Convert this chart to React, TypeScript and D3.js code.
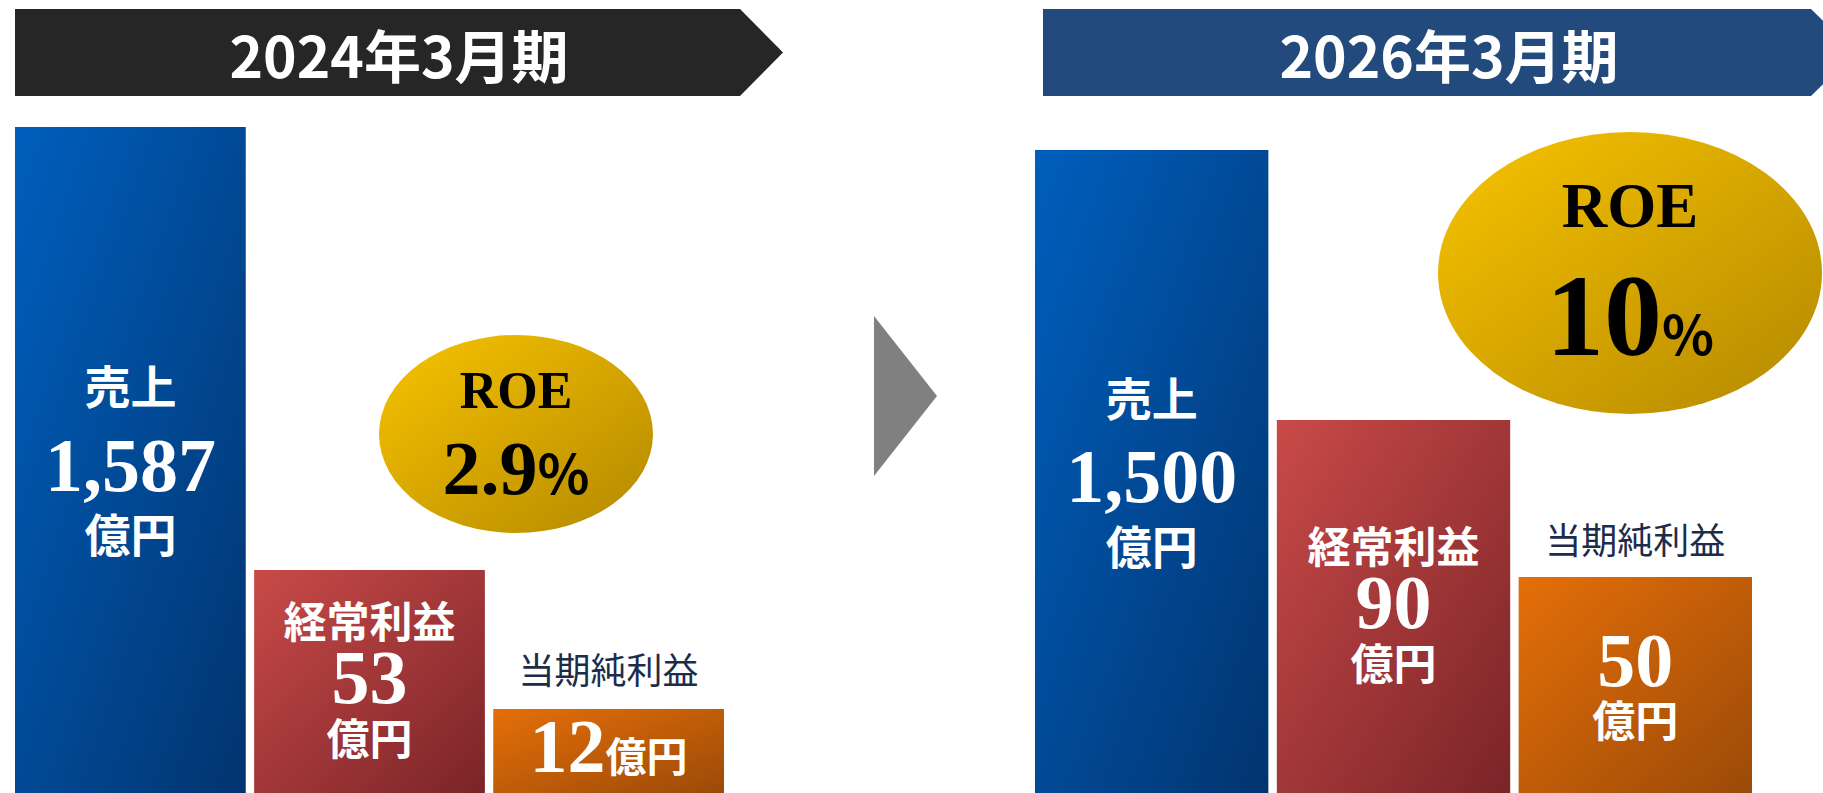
import React from 'react';
import * as d3 from 'd3';

// chart data
const periods = ['2024年3月期', '2026年3月期'];
const metrics = ['売上', '経常利益', '当期純利益'];
const values2024 = [1587, 53, 12];
const values2026 = [1500, 90, 50];
const roeValues = [2.9, 10];
const unitLabel = '億円';
const roeLabel = 'ROE';

const W = 1823;
const H = 793;
const JP = "'Noto Sans CJK JP', 'Noto Sans', sans-serif";
const SERIF = "'Liberation Serif', 'Times New Roman', serif";

const fmt = d3.format(',');

// per-panel layout (positions only, values come from the arrays above)
const layout = [
  {
    header: { x0: 15, x1: 740, tip: 783, y0: 9, y1: 96, fill: '#262626' },
    barRange: [15, 724],
    tops: [127, 570, 709],
    ellipse: { cx: 516, cy: 434, rx: 137, ry: 99 },
    roeY: 408, roeSize: 52, pctY: 494, pctNum: 76, pctSign: 54,
    sales: { name: 384, num: 491, unit: 532 },
    ord: { name: 619, num: 703, unit: 736 },
    net: { label: 668, inline: true, num: 772, unit: 772 },
  },
  {
    header: { x0: 1043, x1: 1811, tip: 1855, y0: 9, y1: 96, fill: '#224a7c' },
    barRange: [1035, 1752],
    tops: [150, 420, 577],
    ellipse: { cx: 1630, cy: 273, rx: 192, ry: 141 },
    roeY: 227, roeSize: 63, pctY: 355, pctNum: 116, pctSign: 54,
    sales: { name: 396, num: 502, unit: 544 },
    ord: { name: 544, num: 628, unit: 661 },
    net: { label: 538, inline: false, num: 686, unit: 718 },
  },
];

const seriesByPeriod = [values2024, values2026];
const barGrad = ['gBlue', 'gRed', 'gOrange'];

const Panel = ({ p }: { p: number }) => {
  const L = layout[p];
  const vals = seriesByPeriod[p];
  const x = d3.scaleBand<string>().domain(metrics).range(L.barRange as [number, number]).paddingInner(0.035);
  const top = d3.scaleOrdinal<string, number>().domain(metrics).range(L.tops);
  const h = L.header;
  const headerPath = d3.path();
  headerPath.moveTo(h.x0, h.y0);
  headerPath.lineTo(h.x1, h.y0);
  headerPath.lineTo(h.tip, (h.y0 + h.y1) / 2);
  headerPath.lineTo(h.x1, h.y1);
  headerPath.lineTo(h.x0, h.y1);
  headerPath.closePath();
  const cx = (m: string) => (x(m) as number) + x.bandwidth() / 2;
  const e = L.ellipse;

  return (
    <g>
      <path d={headerPath.toString()} fill={h.fill} />
      <text x={(h.x0 + h.tip) / 2} y={(h.y0 + h.y1) / 2} textAnchor="middle" dominantBaseline="central"
        fill="#fff" fontFamily={JP} fontWeight={700} fontSize={57}>{periods[p]}</text>

      {metrics.map((m, i) => (
        <rect key={m} x={x(m)} y={top(m)} width={x.bandwidth()} height={H - top(m)} fill={`url(#${barGrad[i]})`} />
      ))}

      {/* sales */}
      <text x={cx(metrics[0])} y={L.sales.name} textAnchor="middle" dominantBaseline="central" fill="#fff"
        fontFamily={JP} fontWeight={700} fontSize={46}>{metrics[0]}</text>
      <text x={cx(metrics[0])} y={L.sales.num} textAnchor="middle" fill="#fff"
        fontFamily={SERIF} fontWeight={700} fontSize={76}>{fmt(vals[0])}</text>
      <text x={cx(metrics[0])} y={L.sales.unit} textAnchor="middle" dominantBaseline="central" fill="#fff"
        fontFamily={JP} fontWeight={700} fontSize={46}>{unitLabel}</text>

      {/* ordinary profit */}
      <text x={cx(metrics[1])} y={L.ord.name} textAnchor="middle" dominantBaseline="central" fill="#fff"
        fontFamily={JP} fontWeight={700} fontSize={43}>{metrics[1]}</text>
      <text x={cx(metrics[1])} y={L.ord.num} textAnchor="middle" fill="#fff"
        fontFamily={SERIF} fontWeight={700} fontSize={76}>{fmt(vals[1])}</text>
      <text x={cx(metrics[1])} y={L.ord.unit} textAnchor="middle" dominantBaseline="central" fill="#fff"
        fontFamily={JP} fontWeight={700} fontSize={43}>{unitLabel}</text>

      {/* net profit */}
      <text x={cx(metrics[2])} y={L.net.label} textAnchor="middle" dominantBaseline="central" fill="#1d2c4a"
        fontFamily={JP} fontWeight={400} fontSize={36}>{metrics[2]}</text>
      {L.net.inline ? (
        <text x={cx(metrics[2])} y={L.net.num} textAnchor="middle" fill="#fff">
          <tspan fontFamily={SERIF} fontWeight={700} fontSize={76}>{fmt(vals[2])}</tspan>
          <tspan fontFamily={JP} fontWeight={700} fontSize={41}>{unitLabel}</tspan>
        </text>
      ) : (
        <g>
          <text x={cx(metrics[2])} y={L.net.num} textAnchor="middle" fill="#fff"
            fontFamily={SERIF} fontWeight={700} fontSize={76}>{fmt(vals[2])}</text>
          <text x={cx(metrics[2])} y={L.net.unit} textAnchor="middle" dominantBaseline="central" fill="#fff"
            fontFamily={JP} fontWeight={700} fontSize={43}>{unitLabel}</text>
        </g>
      )}

      {/* ROE bubble */}
      <ellipse cx={e.cx} cy={e.cy} rx={e.rx} ry={e.ry} fill="url(#gGold)" />
      <text x={e.cx} y={L.roeY} textAnchor="middle" fill="#000" fontFamily={SERIF} fontWeight={700}
        fontSize={L.roeSize}>{roeLabel}</text>
      <text x={e.cx} y={L.pctY} textAnchor="middle" fill="#000">
        <tspan fontFamily={SERIF} fontWeight={700} fontSize={L.pctNum}>{String(roeValues[p])}</tspan>
        <tspan fontFamily={JP} fontWeight={700} fontSize={L.pctSign}>%</tspan>
      </text>
    </g>
  );
};

const Grad = ({ id, from, to }: { id: string; from: string; to: string }) => (
  <linearGradient id={id} x1="0" y1="0" x2="1" y2="1">
    <stop offset="0%" stopColor={from} />
    <stop offset="100%" stopColor={to} />
  </linearGradient>
);

export default function App() {
  return (
    <div>
      <style>{'body{margin:0;background:#fff}'}</style>
      <svg width={W} height={H} style={{ display: 'block' }}>
        <defs>
          <Grad id="gBlue" from="#005fbd" to="#02346f" />
          <Grad id="gRed" from="#c94a48" to="#7a2428" />
          <Grad id="gOrange" from="#e56f09" to="#9b4a08" />
          <Grad id="gGold" from="#f8c400" to="#b38800" />
        </defs>
        <rect width={W} height={H} fill="#fff" />
        {periods.map((_, p) => <Panel key={p} p={p} />)}
        <path d={`M874,316L937,396L874,476Z`} fill="#808080" />
      </svg>
    </div>
  );
}
